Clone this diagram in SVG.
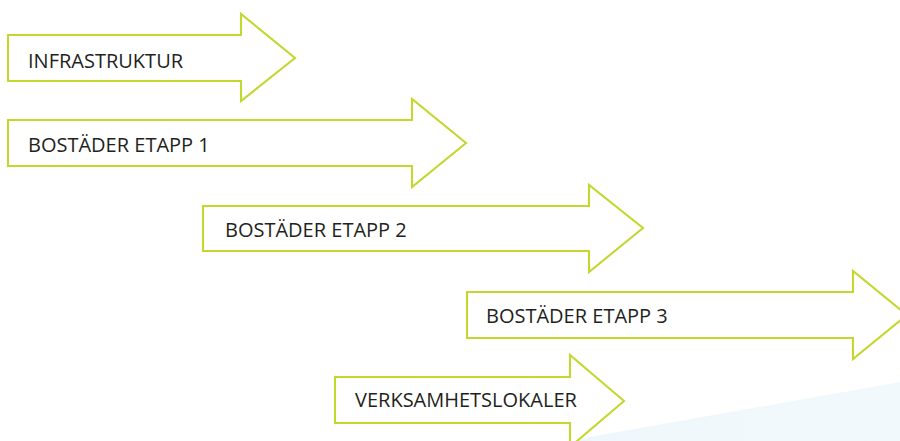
<svg xmlns="http://www.w3.org/2000/svg" width="900" height="441" viewBox="0 0 900 441">
  <defs>
    <linearGradient id="bg" x1="0" y1="0" x2="1" y2="0">
      <stop offset="0" stop-color="#eef7fb"/>
      <stop offset="1" stop-color="#f2f9fc"/>
    </linearGradient>
    <style>
      .arrow { fill: #ffffff; stroke: #c3d82f; stroke-width: 2.1; stroke-linejoin: miter; }
      .label { font-family: "Open Sans", "Liberation Sans", sans-serif; font-size: 20px; fill: #231f20; }
    </style>
  </defs>
  <rect x="0" y="0" width="900" height="441" fill="#ffffff"/>
  <polygon points="567,441 900,382 900,441" fill="url(#bg)"/>
  <g id="infrastruktur">
    <polygon class="arrow" points="8,35 241,35 241,14 295,58 241,101 241,81 8,81"/>
    <text class="label" x="28" y="67.5">INFRASTRUKTUR</text>
  </g>
  <g id="bostader-etapp-1">
    <polygon class="arrow" points="8,120 412,120 412,99 466,143 412,187 412,166 8,166"/>
    <text class="label" x="28" y="152">BOSTÄDER ETAPP 1</text>
  </g>
  <g id="bostader-etapp-2">
    <polygon class="arrow" points="203,206 589,206 589,185 643,228 589,272 589,251 203,251"/>
    <text class="label" x="225" y="237">BOSTÄDER ETAPP 2</text>
  </g>
  <g id="bostader-etapp-3">
    <polygon class="arrow" points="467,292 853,292 853,271 907,315 853,359 853,338 467,338"/>
    <text class="label" x="486" y="323">BOSTÄDER ETAPP 3</text>
  </g>
  <g id="verksamhetslokaler">
    <polygon class="arrow" points="335,377 570,377 570,355 624,401 570,447 570,423 335,423"/>
    <text class="label" x="355" y="407">VERKSAMHETSLOKALER</text>
  </g>
  <g id="connectors"/>
</svg>
